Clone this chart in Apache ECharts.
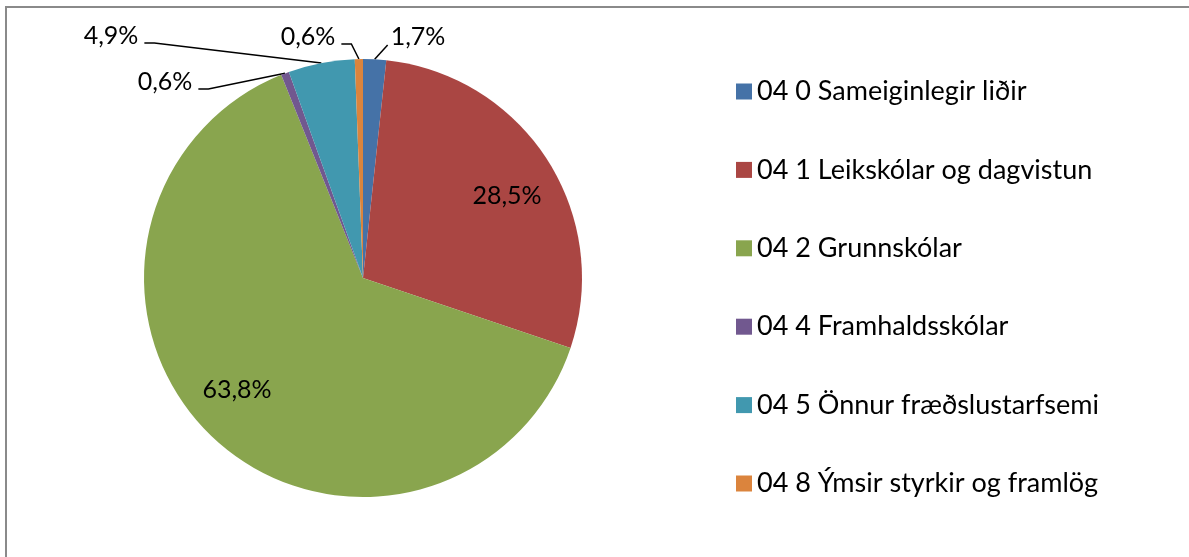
<!DOCTYPE html>
<html>
<head>
<meta charset="utf-8">
<script src="https://cdn.jsdelivr.net/npm/echarts@6/dist/echarts.min.js"></script>
<style>
  html, body { margin: 0; padding: 0; background: #fff; }
  #main { width: 1189px; height: 557px; }
</style>
</head>
<body>
<div id="main"></div>
<script>
// flokkar og hlutföll (%)
const categories = [
  "04 0 Sameiginlegir liðir",
  "04 1 Leikskólar og dagvistun",
  "04 2 Grunnskólar",
  "04 4 Framhaldsskólar",
  "04 5 Önnur fræðslustarfsemi",
  "04 8 Ýmsir styrkir og framlög"
];
const shares = [1.7, 28.5, 63.8, 0.6, 4.9, 0.6];
const insideLabels = [false, true, true, false, false, false];

const sliceColors = ["#4572A7", "#AA4643", "#89A54E", "#71588F", "#4198AF", "#DB843D"];
// label centers, in px
const labelSpots = [[418, 37], [507, 196], [237, 390], [165, 82], [111, 36], [308, 37]];

const FONT = "Lato";

const myChart = echarts.init(document.getElementById("main"), null, { renderer: "canvas" });

const option = {
  animation: false,
  backgroundColor: "#fff",
  color: sliceColors,
  graphic: [
    {
      type: "rect",
      shape: { x: 6, y: 7, width: 1200, height: 600 },
      style: { fill: "none", stroke: "#8a8a8a", lineWidth: 2 },
      silent: true
    }
  ],
  legend: {
    orient: "vertical",
    left: 736,
    top: 78,
    padding: 0,
    itemGap: 51.4,
    itemWidth: 16,
    itemHeight: 16,
    icon: "rect",
    data: categories,
    textStyle: { fontFamily: FONT, fontSize: 27, color: "#000", lineHeight: 26 }
  },
  series: [
    {
      type: "pie",
      center: [363, 278],
      radius: 219,
      startAngle: 90,
      avoidLabelOverlap: false,
      silent: true,
      label: {
        show: true,
        fontFamily: FONT,
        fontSize: 25,
        color: "#000",
        formatter: (p) => p.value.toFixed(1).replace(".", ",") + "%"
      },
      labelLine: {
        show: true,
        lineStyle: { color: "#000", width: 1.5 }
      },
      labelLayout: function (p) {
        const s = labelSpots[p.dataIndex];
        const r = p.labelRect;
        const out = { x: s[0], y: s[1], align: "center", verticalAlign: "middle" };
        const pts = p.labelLinePoints;
        if (pts && pts.length) {
          const anchor = pts[0];
          let end, elbow;
          if (s[0] < anchor[0]) {
            end = [s[0] + r.width / 2 + 6, s[1] + 7];
            elbow = [end[0] + 10, end[1]];
          } else {
            end = [s[0] - r.width / 2 - 3, s[1] + 8];
            elbow = end.slice();
          }
          out.labelLinePoints = [anchor, elbow, end];
        }
        return out;
      },
      data: categories.map((name, i) => ({
        name: name,
        value: shares[i],
        label: { position: insideLabels[i] ? "inside" : "outside" },
        labelLine: { show: !insideLabels[i] }
      }))
    }
  ]
};

myChart.setOption(option);
</script>
</body>
</html>
